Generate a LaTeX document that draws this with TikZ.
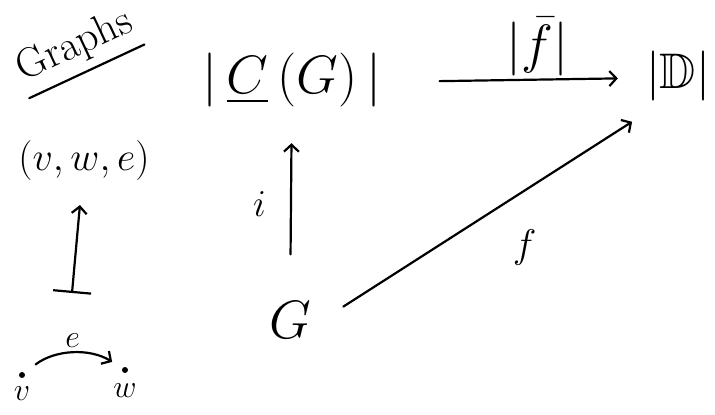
\documentclass[tikz,border=0pt]{standalone}
\usepackage{fix-cm}
\usepackage{amsmath,amssymb}
\usetikzlibrary{arrows.meta,positioning}

\begin{document}
\begin{tikzpicture}[
  x=1pt, y=-1pt,
  hand/.style={inner sep=2pt, font=\fontsize{#1}{#1}\selectfont},
  pen/.style={line width=2.2pt, line cap=round},
  arrow/.style={pen, -{Straight Barb[length=7pt,width=15pt,line width=2.2pt]}},
  mapsto/.style={pen, {Bar[width=38pt,line width=2.2pt]}-{Straight Barb[length=7pt,width=15pt,line width=2.2pt]}},
  dot/.style={circle, fill, inner sep=0pt, minimum size=6pt}
]
\useasboundingbox (0,0) rectangle (715,415);

\node[hand=42, rotate=25, inner ysep=9pt] (title) at (75,46) {Graphs};
\draw[pen] (title.south west) -- (title.south east);

\node[hand=54] (CG) at (292,80) {$|\,\underline{C}\,(G)\,|$};
\node[hand=50] (D) at (678,76) {$|\mathbb{D}|$};
\node[hand=54] (G) at (290,320) {$G$};

\node[hand=40] (vwe) at (84,160) {$(v,w,e)$};
\coordinate (mapfoot) at (72,293);
\node[dot] (v) at (22,375) {};
\node[dot] (w) at (125,370) {};
\node[hand=32, below=6pt of v] (vlab) {$v$};
\node[hand=32, below=8pt of w] (wlab) {$w$};

\draw[arrow, shorten <=56pt, shorten >=26pt] ([yshift=-2pt]CG.east) -- node[hand=54, pos=0.59, above=1pt] (fbarlab) {$|\bar{f}|$} ([yshift=-2pt]D.west);
\draw[arrow, shorten <=45pt, shorten >=34pt] (G) -- node[hand=38, left=22pt] (ilab) {$i$} (CG);
\draw[arrow, shorten <=36pt, shorten >=14pt] ([yshift=-6pt]G.east) -- node[hand=40, pos=0.64, below=36pt] (flab) {$f$} ([yshift=-11pt]D.south west);
\draw[mapsto, shorten >=23pt] (mapfoot) -- (vwe);
\draw[arrow, bend left=35, shorten <=14pt, shorten >=12pt] (v) to node[hand=32, above=4pt] (elab) {$e$} (w);
\end{tikzpicture}
\end{document}
